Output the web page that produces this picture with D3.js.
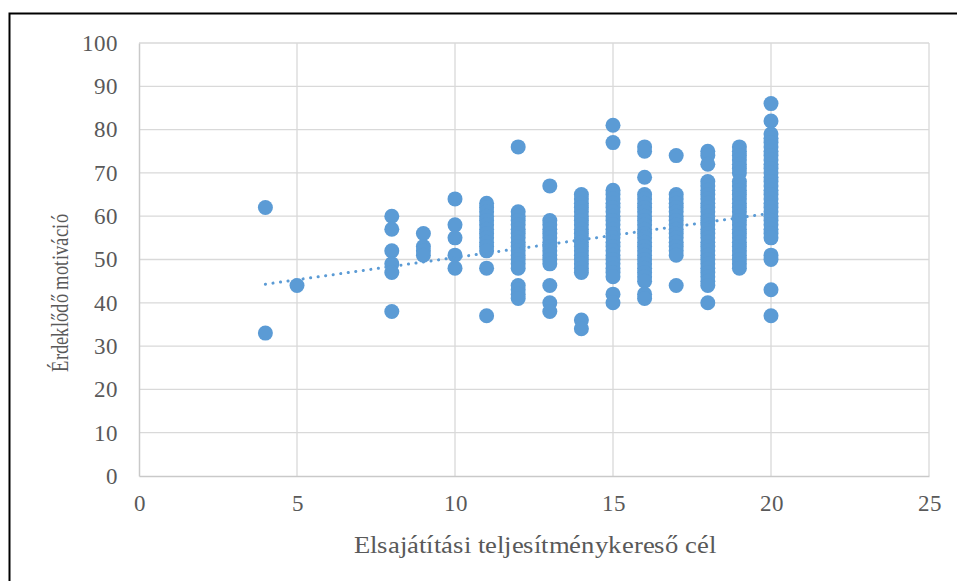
<!DOCTYPE html>
<html><head><meta charset="utf-8">
<script src="https://cdn.jsdelivr.net/npm/d3@7"></script>
<style>
@font-face{font-family:"RefSerif";src:local("Liberation Serif"),local("LiberationSerif"),local("LiberationSerif-Regular");}
</style>
</head><body style="margin:0">
<svg id="c" width="957" height="581"></svg>
<script>
// x value of each column and the y values of its points
const xCols = [4, 5, 8, 9, 10, 11, 12, 13, 14, 15, 16, 17, 18, 19, 20];
const yCols = [
  [62, 33],
  [44],
  [60, 57, 52, 49, 47, 38],
  [56, 53, 52, 51],
  [64, 58, 55, 51, 48],
  [63, 62, 61, 60, 59, 58, 57, 56, 55, 54, 53, 52, 48, 37],
  [76, 61, 60, 59, 58, 57, 56, 55, 54, 53, 52, 51, 50, 49, 48, 44, 43, 42, 41],
  [67, 59, 58, 57, 56, 55, 54, 53, 52, 51, 50, 49, 44, 40, 38],
  [65, 64, 63, 62, 61, 60, 59, 58, 57, 56, 55, 54, 53, 52, 51, 50, 49, 48, 47, 36, 34],
  [81, 77, 66, 65, 64, 63, 62, 61, 60, 59, 58, 57, 56, 55, 54, 53, 52, 51, 50, 49, 48, 47, 46, 42, 40],
  [76, 75, 69, 65, 64, 63, 62, 61, 60, 59, 58, 57, 56, 55, 54, 53, 52, 51, 50, 49, 48, 47, 46, 45, 42, 41],
  [74, 65, 64, 63, 62, 61, 60, 59, 58, 57, 56, 55, 54, 53, 52, 51, 44],
  [75, 74, 72, 68, 67, 66, 65, 64, 63, 62, 61, 60, 59, 58, 57, 56, 55, 54, 53, 52, 51, 50, 49, 48, 47, 46, 45, 44, 40],
  [76, 75, 74, 73, 72, 71, 70, 68, 67, 66, 65, 64, 63, 62, 61, 60, 59, 58, 57, 56, 55, 54, 53, 52, 51, 50, 49, 48],
  [86, 82, 79, 78, 77, 76, 75, 74, 73, 72, 71, 70, 69, 68, 67, 66, 65, 64, 63, 62, 61, 60, 59, 58, 57, 56, 55, 51, 50, 43, 37]
];
// linear trendline, read at its two ends
const trendX = [4, 20];
const trendY = [44.3, 60.7];
const xTicks = [0, 5, 10, 15, 20, 25];
const yTicks = [0, 10, 20, 30, 40, 50, 60, 70, 80, 90, 100];
const xTitle = "Elsajátítási teljesítménykereső cél";
const yTitle = "Érdeklődő motiváció";

const svg = d3.select("#c");
const x = d3.scaleLinear().domain([0, 25]).range([139, 929]);
const y = d3.scaleLinear().domain([0, 100]).range([476, 43]);
const color = "#5b9bd5";
const fam = () => '"RefSerif", "Liberation Serif"';

// outer frame (runs off the right and bottom edges)
svg.append("path").attr("d", "M9.5,581V13.5H957")
  .attr("fill", "none").attr("stroke", "#000").attr("stroke-width", 2);

// gridlines
const grid = svg.append("g");
grid.selectAll(".hy").data(yTicks.filter(d => d > 0)).join("line")
  .attr("x1", x(0)).attr("x2", x(25)).attr("y1", d => y(d)).attr("y2", d => y(d))
  .attr("stroke", "#d9d9d9").attr("stroke-width", 1.3);
grid.selectAll(".vx").data(xTicks.filter(d => d > 0)).join("line")
  .attr("x1", d => x(d)).attr("x2", d => x(d)).attr("y1", y(0)).attr("y2", y(100))
  .attr("stroke", "#d9d9d9").attr("stroke-width", 1.3);

// axes
const xAxis = svg.append("g").attr("transform", `translate(0,${y(0)})`)
  .call(d3.axisBottom(x).tickValues(xTicks).tickSize(0).tickPadding(19));
const yAxis = svg.append("g").attr("transform", `translate(${x(0)},0)`)
  .call(d3.axisLeft(y).tickValues(yTicks).tickSize(0).tickPadding(21));
[xAxis, yAxis].forEach(g => {
  g.attr("font-family", "Liberation Serif").attr("font-size", 23);
  g.select(".domain").attr("stroke", "#c9c9c9").attr("stroke-width", 1.5);
  g.selectAll("text").attr("fill", "#595959").style("font-family", fam);
});

// points
const pts = [];
xCols.forEach((xv, i) => yCols[i].forEach(yv => pts.push([xv, yv])));
svg.append("g").selectAll("circle").data(pts).join("circle")
  .attr("cx", d => x(d[0])).attr("cy", d => y(d[1])).attr("r", 7.5).attr("fill", color);

// trendline
svg.append("line")
  .attr("x1", x(trendX[0])).attr("y1", y(trendY[0]))
  .attr("x2", x(trendX[1])).attr("y2", y(trendY[1]))
  .attr("stroke", color).attr("stroke-width", 3).attr("stroke-linecap", "round")
  .attr("stroke-dasharray", "0.1 7.5");

// titles
svg.append("text").attr("x", 535).attr("y", 553).attr("text-anchor", "middle")
  .attr("fill", "#595959").attr("font-size", 25).style("font-family", fam)
  .attr("textLength", 362).attr("lengthAdjust", "spacingAndGlyphs").text(xTitle);
svg.append("text").attr("transform", "translate(68,293) rotate(-90)")
  .attr("text-anchor", "middle").attr("fill", "#595959")
  .attr("font-size", 24).style("font-family", fam)
  .attr("textLength", 158).attr("lengthAdjust", "spacingAndGlyphs").text(yTitle);
</script>
</body></html>
